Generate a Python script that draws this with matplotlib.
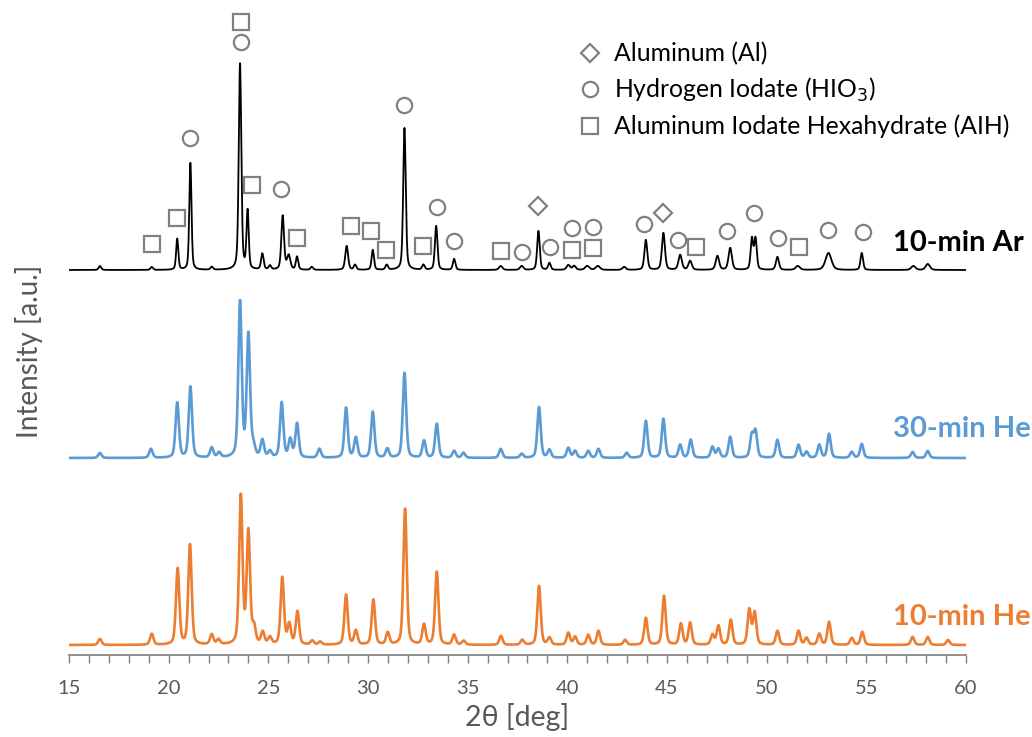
import numpy as np
import matplotlib
matplotlib.use("Agg")
import matplotlib.pyplot as plt
from matplotlib.lines import Line2D

plt.rcParams['font.family'] = ['Lato', 'DejaVu Sans']

# peak lists: 2theta [deg], height [a.u.], FWHM [deg]
ar10_pos = [16.55, 19.15, 20.43, 21.09, 22.16, 23.58, 23.96, 24.70, 25.08, 25.72, 26.02, 26.44,
            27.18, 28.93, 29.35, 30.24, 30.94, 31.83, 32.78, 33.42, 34.32, 36.66, 37.71, 38.55,
            39.10, 40.05, 40.34, 41.00, 41.53, 42.85, 43.94, 44.82, 45.66, 46.16, 47.53, 48.17,
            49.26, 49.44, 50.54, 51.56, 53.10, 54.77, 57.36, 58.08]
ar10_h = [4, 3, 31, 107, 3, 206, 58, 16, 4, 54, 14, 13,
          3, 24, 5, 20, 5, 142, 5, 44, 11, 4, 4, 39,
          7, 5, 4, 4, 4, 3, 30, 37, 15, 9, 14, 22,
          31, 31, 13, 4, 17, 17, 4, 6]
ar10_w = [0.15, 0.15, 0.13, 0.13, 0.15, 0.15, 0.13, 0.15, 0.15, 0.16, 0.2, 0.14,
          0.15, 0.17, 0.15, 0.14, 0.15, 0.15, 0.15, 0.15, 0.15, 0.2, 0.2, 0.15,
          0.15, 0.2, 0.2, 0.25, 0.25, 0.2, 0.17, 0.18, 0.2, 0.2, 0.2, 0.2,
          0.15, 0.15, 0.18, 0.25, 0.35, 0.15, 0.25, 0.25]

he30_pos = [16.55, 19.11, 20.43, 21.09, 22.16, 22.53, 23.58, 24.00, 24.25, 24.70, 25.08, 25.67,
            26.10, 26.44, 27.56, 28.90, 29.39, 30.24, 30.97, 31.83, 32.81, 33.45, 34.32, 34.79,
            36.66, 37.71, 38.58, 39.10, 40.05, 40.39, 41.05, 41.56, 42.98, 43.94, 44.82, 45.66,
            46.19, 47.28, 47.58, 48.17, 49.25, 49.44, 50.54, 51.60, 52.00, 52.64, 53.13, 54.27,
            54.77, 57.32, 58.08]
he30_h = [5, 9, 55, 71, 10, 5, 155, 122, 10, 17, 6, 55,
          18, 34, 9, 50, 20, 46, 9, 85, 17, 34, 7, 5,
          9, 4, 51, 8, 10, 7, 7, 9, 5, 37, 39, 13,
          18, 11, 9, 21, 22, 26, 18, 13, 6, 13, 24, 6,
          14, 6, 7]

he10_pos = [16.55, 19.15, 20.45, 21.07, 22.16, 22.50, 23.62, 24.00, 24.28, 24.72, 25.08, 25.70,
            26.05, 26.46, 27.20, 27.60, 28.90, 29.39, 30.27, 30.99, 31.86, 32.81, 33.45, 34.32,
            34.80, 36.67, 37.74, 38.58, 39.10, 40.05, 40.39, 41.05, 41.56, 42.90, 43.94, 44.85,
            45.70, 46.16, 47.28, 47.58, 48.20, 49.13, 49.40, 50.54, 51.60, 52.00, 52.64, 53.13,
            54.27, 54.80, 57.32, 58.08, 59.10]
he10_h = [6, 11, 76, 100, 10, 5, 148, 112, 16, 12, 7, 67,
          20, 33, 4, 3, 50, 14, 45, 12, 136, 20, 73, 10,
          4, 9, 5, 59, 7, 12, 8, 10, 14, 5, 27, 49,
          21, 22, 10, 19, 25, 35, 32, 14, 14, 7, 11, 23,
          7, 13, 8, 8, 5]

# phase markers: 2theta, level
al_x = [38.55, 44.82]
al_y = [449, 442]
hio3_x = [21.09, 23.63, 25.64, 31.81, 33.45, 34.32, 37.71, 39.13, 40.22, 41.31, 43.85, 45.57,
          48.0, 49.34, 50.59, 53.1, 54.82]
hio3_y = [517, 613, 466, 550, 448, 414, 403, 408, 427, 428, 431, 415,
          424, 442, 417, 425, 423]
aih_x = [19.18, 20.40, 23.63, 24.20, 26.42, 29.15, 30.17, 30.90, 32.76, 36.66, 40.22, 41.31,
         46.44, 51.64]
aih_y = [411, 437, 633, 470, 417, 429, 424, 405, 409, 404, 405, 407,
         408, 408]

offsets = [385, 197, 10]
names = ["10-min Ar", "30-min He", "10-min He"]
colors = ["#000000", "#5B9BD5", "#ED7D31"]


def pattern(x, pos, h, w):
    y = np.zeros_like(x)
    for p, a, f in zip(pos, h, w):
        g = np.exp(-4 * np.log(2) * ((x - p) / f) ** 2)
        l = 1 / (1 + 4 * ((x - p) / f) ** 2)
        y += a * (0.6 * g + 0.4 * l)
    return y


x = np.arange(15, 60.001, 0.01)
traces = [
    pattern(x, ar10_pos, ar10_h, ar10_w),
    pattern(x, he30_pos, he30_h, [0.2] * len(he30_pos)),
    pattern(x, he10_pos, he10_h, [0.2] * len(he10_pos)),
]

fig = plt.figure(figsize=(10.32, 7.37), dpi=100)
ax = fig.add_axes([69 / 1032, 82 / 737, 897 / 1032, 645 / 737])

lws = [1.3, 1.9, 1.9]
for y, off, c, lw in zip(traces, offsets, colors, lws):
    ax.plot(x, y + off, color=c, lw=lw)

mk = dict(ls="none", mfc="none", mec="#808080", mew=1.6)
ax.plot(al_x, al_y, marker="D", ms=9, **mk)
ax.plot(hio3_x, hio3_y, marker="o", ms=11, **mk)
ax.plot(aih_x, aih_y, marker="s", ms=11, **mk)

label_y = [412, 226, 38]
for name, c, ly in zip(names, colors, label_y):
    ax.text(56.35, ly, name, color=c, fontsize=21, fontweight="bold",
            va="center", ha="left", clip_on=False)

handles = [
    Line2D([], [], marker="D", ms=9, **mk),
    Line2D([], [], marker="o", ms=11, **mk),
    Line2D([], [], marker="s", ms=11, **mk),
]
labels = ["Aluminum (Al)", "Hydrogen Iodate (HIO$_3$)", "Aluminum Iodate Hexahydrate (AIH)"]
ax.legend(handles, labels, loc="upper left", bbox_to_anchor=(565 / 1032, 1 - 30 / 737),
          bbox_transform=fig.transFigure, frameon=False, fontsize=17.8,
          handlelength=1.0, handletextpad=0.5, labelspacing=0.42, borderpad=0)

ax.set_xlim(15, 60)
ax.set_ylim(0, 645)
ax.set_xticks(range(15, 61, 5))
ax.set_xticks(range(15, 61), minor=True)
ax.set_yticks([])
for s in ["left", "right", "top"]:
    ax.spines[s].set_visible(False)
ax.spines["bottom"].set_color("#7f7f7f")
ax.spines["bottom"].set_linewidth(1.2)
ax.tick_params(axis="x", which="both", direction="out", colors="#7f7f7f", labelcolor="#595959",
               labelsize=14.5, length=6, width=1, pad=12)

ax.set_xlabel("2θ [deg]", fontsize=20.5, color="#595959", labelpad=4)
ax.set_ylabel("Intensity [a.u.]", fontsize=20, color="#595959")
ax.yaxis.set_label_coords(-0.029, 0.471)

fig.savefig("out.png", dpi=100)
